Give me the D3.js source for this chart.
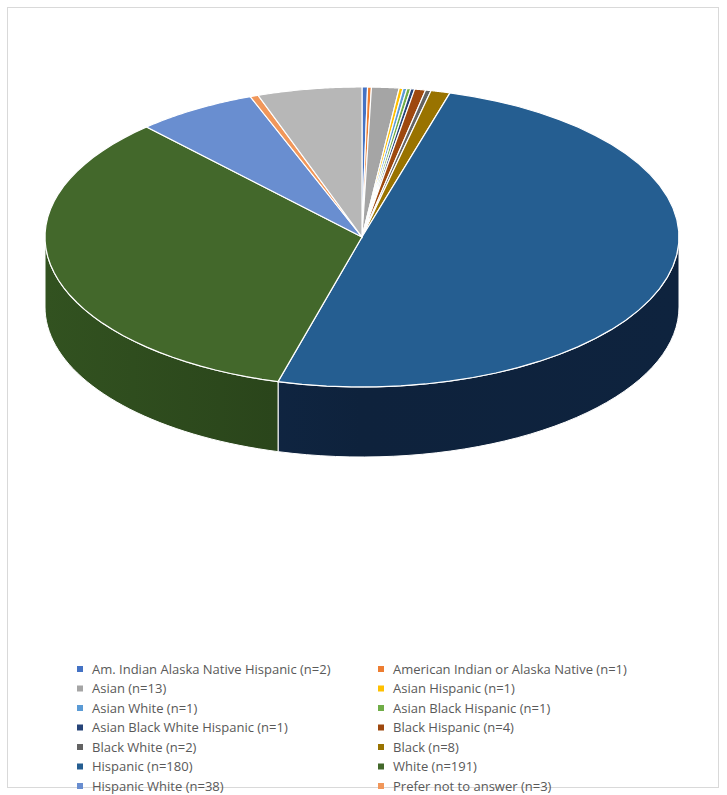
<!DOCTYPE html>
<html><head><meta charset="utf-8">
<script src="https://cdn.jsdelivr.net/npm/d3@7"></script>
<style>body{margin:0;background:#fff;font-family:"Open Sans","Liberation Sans",sans-serif}</style>
</head><body>
<svg id="chart" width="727" height="795"></svg>
<script>
// legend labels (n counts)
const labels = ["Am. Indian Alaska Native Hispanic (n=2)", "American Indian or Alaska Native (n=1)",
  "Asian (n=13)", "Asian Hispanic (n=1)", "Asian White (n=1)", "Asian Black Hispanic (n=1)",
  "Asian Black White Hispanic (n=1)", "Black Hispanic (n=4)", "Black White (n=2)", "Black (n=8)",
  "Hispanic (n=180)", "White (n=191)", "Hispanic White (n=38)", "Prefer not to answer (n=3)", "Other"];
// slice sizes (degrees of the drawn ellipse)
const shares = [1, 0.7, 5, 0.7, 0.7, 0.7, 0.7, 2, 1, 3.5, 178, 121, 22, 1.5, 19];
const colors = ["#4472C4", "#ED7D31", "#A5A5A5", "#FFC000", "#5B9BD5", "#70AD47", "#264478",
  "#9E480E", "#636363", "#997300", "#255E91", "#43682B", "#698ED0", "#F1975A", "#B7B7B7"];
const sideColors = ["#2c4a80", "#9a5120", "#6b6b6b", "#a67c00", "#3b6590", "#48702e", "#18294a",
  "#662f09", "#404040", "#634b00", "#0f2440", "#2a451b", "#44608c", "#9c623a", "#777"];

const svg = d3.select("#chart");
svg.append("rect").attr("x", 7.5).attr("y", 7.5).attr("width", 711).attr("height", 780)
  .attr("fill", "none").attr("stroke", "#d9d9d9");

const cx = 362, cy = 237, rx = 317, ry = 150, depth = 70;
const px = a => cx + rx * Math.sin(a), py = a => cy - ry * Math.cos(a);

const arcs = d3.pie().sort(null).value(d => d).startAngle(0).endAngle(2 * Math.PI)(shares);

const defs = svg.append("defs");

// side walls (visible front half between 90 and 270 deg)
arcs.forEach((d, i) => {
  const a0 = Math.max(d.startAngle, Math.PI / 2), a1 = Math.min(d.endAngle, 3 * Math.PI / 2);
  if (a1 <= a0) return;
  const g = defs.append("linearGradient").attr("id", "g" + i)
    .attr("gradientUnits", "userSpaceOnUse").attr("x1", cx - rx).attr("x2", cx + rx);
  g.append("stop").attr("offset", 0).attr("stop-color", d3.color(sideColors[i]).brighter(0.5));
  g.append("stop").attr("offset", 0.5).attr("stop-color", d3.color(sideColors[i]).darker(0.2));
  g.append("stop").attr("offset", 1).attr("stop-color", d3.color(sideColors[i]).darker(0.1));
  const steps = d3.range(0, 41).map(k => a0 + (a1 - a0) * k / 40);
  let p = steps.map((a, k) => (k ? "L" : "M") + px(a) + "," + py(a)).join("");
  p += steps.slice().reverse().map(a => "L" + px(a) + "," + (py(a) + depth)).join("") + "Z";
  svg.append("path").attr("d", p).attr("fill", `url(#g${i})`).attr("stroke", "#fff").attr("stroke-width", 1);
});

// top faces
arcs.forEach((d, i) => {
  const steps = d3.range(0, 41).map(k => d.startAngle + (d.endAngle - d.startAngle) * k / 40);
  const p = `M${cx},${cy}` + steps.map(a => "L" + px(a) + "," + py(a)).join("") + "Z";
  svg.append("path").attr("d", p).attr("fill", colors[i]).attr("stroke", "#fff").attr("stroke-width", 1.2);
});

// legend (first 14 entries, two columns)
const leg = svg.append("g");
labels.slice(0, 14).forEach((t, i) => {
  const x = i % 2 ? 381 : 80, y = 669 + Math.floor(i / 2) * 19.5;
  leg.append("rect").attr("x", x - 3).attr("y", y - 3).attr("width", 6).attr("height", 6).attr("fill", colors[i]);
  leg.append("text").attr("x", x + 12).attr("y", y + 4.5).attr("font-size", 13).attr("fill", "#595959").text(t);
});
</script>
</body></html>
